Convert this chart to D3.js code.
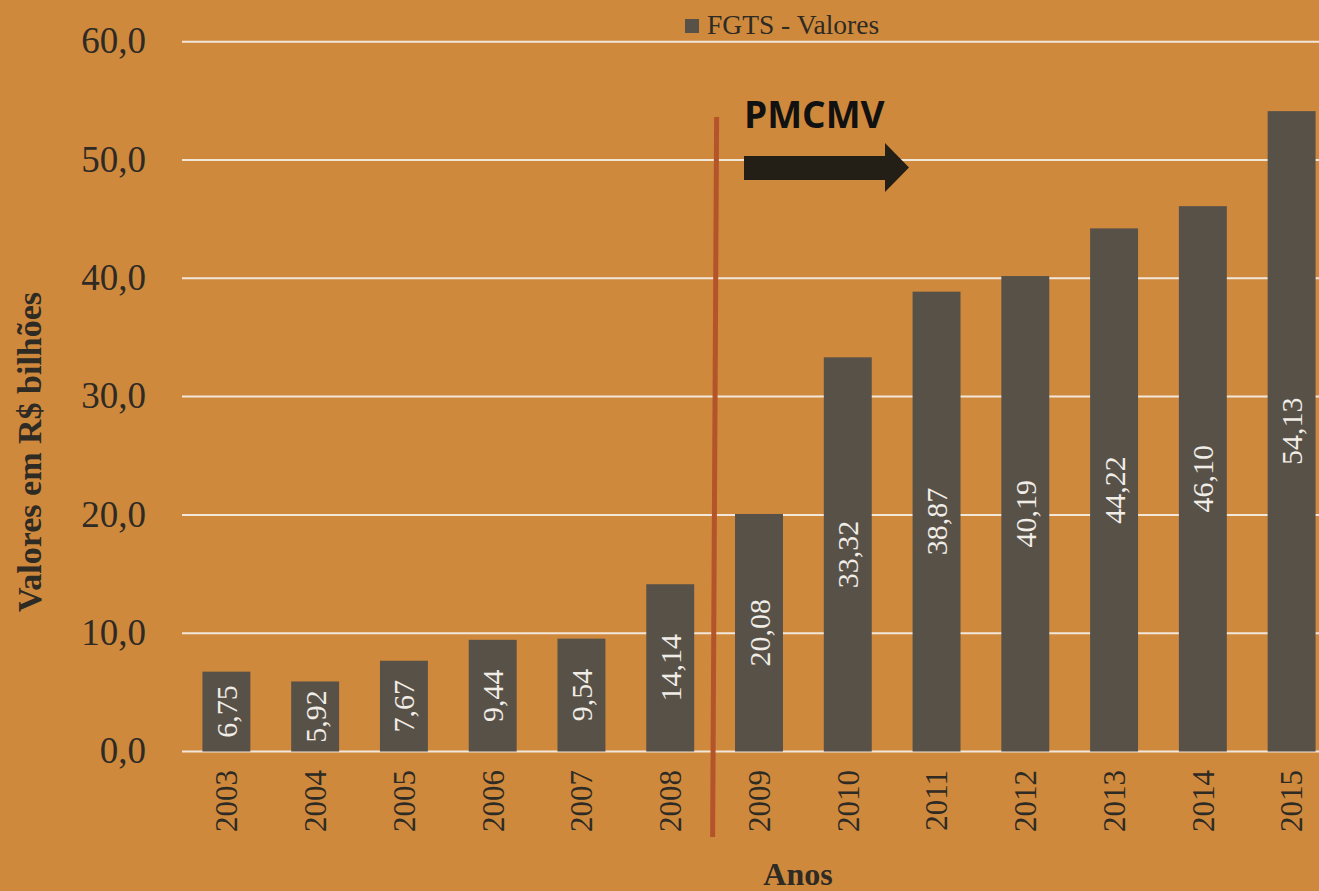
<!DOCTYPE html>
<meta charset="utf-8">
<script src="https://d3js.org/d3.v7.min.js"></script>
<style>
  body { margin: 0; background: #cf893c; }
  svg { display: block; }
</style>
<body>
<svg width="1319" height="891"></svg>
</body>
<script>

// data
var anos = ["2003","2004","2005","2006","2007","2008","2009","2010","2011","2012","2013","2014","2015"];
var valores = [6.75, 5.92, 7.67, 9.44, 9.54, 14.14, 20.08, 33.32, 38.87, 40.19, 44.22, 46.10, 54.13];
var yTicks = [0, 10, 20, 30, 40, 50, 60];

var data = anos.map(function(a, i) { return {ano: a, valor: valores[i]}; });

var svg = d3.select("svg");
var bg = "#cf893c", barColor = "#585148";
var serif = "'Liberation Serif', serif";

svg.append("rect").attr("width", 1319).attr("height", 891).attr("fill", bg);

var x = d3.scaleBand()
    .domain(anos)
    .range([182, 1336])
    .paddingInner(0.46)
    .paddingOuter(0.23);

var y = d3.scaleLinear()
    .domain([0, 60])
    .range([751.5, 41.7]);

var virg = function(f) { return function(d) { return d3.format(f)(d).replace(".", ","); }; };

// gridlines
svg.append("g")
  .selectAll("line")
  .data(yTicks)
  .enter().append("line")
    .attr("x1", 182).attr("x2", 1319)
    .attr("y1", function(d) { return y(d); })
    .attr("y2", function(d) { return y(d); })
    .attr("stroke", "#f3e7da")
    .attr("stroke-width", 2);

// y axis labels
var yAxis = svg.append("g")
    .attr("transform", "translate(146,0)")
    .call(d3.axisLeft(y).tickValues(yTicks).tickFormat(virg(".1f")).tickSize(0).tickPadding(0));
yAxis.select(".domain").remove();
yAxis.selectAll("text")
    .attr("font-family", serif)
    .attr("font-size", 37)
    .attr("fill", "#2e2a24")
    .attr("dy", "0.3em");

// bars
svg.append("g")
  .selectAll("rect")
  .data(data)
  .enter().append("rect")
    .attr("x", function(d) { return x(d.ano); })
    .attr("y", function(d) { return y(d.valor); })
    .attr("width", x.bandwidth())
    .attr("height", function(d) { return y(0) - y(d.valor); })
    .attr("fill", barColor);

// value labels
svg.append("g")
  .selectAll("text")
  .data(data)
  .enter().append("text")
    .attr("transform", function(d) {
      return "translate(" + (x(d.ano) + x.bandwidth() / 2) + "," + ((y(d.valor) + y(0)) / 2) + ") rotate(-90)";
    })
    .attr("text-anchor", "middle")
    .attr("dy", "0.35em")
    .attr("font-family", serif)
    .attr("font-size", 30)
    .attr("fill", "#f0ece6")
    .text(function(d) { return virg(".2f")(d.valor); });

// x axis labels
svg.append("g")
  .selectAll("text")
  .data(anos)
  .enter().append("text")
    .attr("transform", function(d) {
      return "translate(" + (x(d) + x.bandwidth() / 2) + ",770) rotate(-90)";
    })
    .attr("text-anchor", "end")
    .attr("dy", "0.35em")
    .attr("font-family", serif)
    .attr("font-size", 31)
    .attr("fill", "#2e2a24")
    .text(function(d) { return d; });

// axis titles
svg.append("text")
    .attr("transform", "translate(41,452) rotate(-90)")
    .attr("text-anchor", "middle")
    .attr("font-family", serif)
    .attr("font-weight", "bold")
    .attr("font-size", 34)
    .attr("fill", "#2e2a24")
    .text("Valores em R$ bilhões");

svg.append("text")
    .attr("x", 798)
    .attr("y", 885)
    .attr("text-anchor", "middle")
    .attr("font-family", serif)
    .attr("font-weight", "bold")
    .attr("font-size", 32)
    .attr("fill", "#2e2a24")
    .text("Anos");

// legend
svg.append("rect")
    .attr("x", 685).attr("y", 19)
    .attr("width", 14).attr("height", 14)
    .attr("fill", barColor);
svg.append("text")
    .attr("x", 707)
    .attr("y", 34)
    .attr("font-family", serif)
    .attr("font-size", 27.5)
    .attr("fill", "#2e2a24")
    .text("FGTS - Valores");

// PMCMV marker line between 2008 and 2009
var xm = (x("2008") + x.bandwidth() + x("2009")) / 2;
svg.append("line")
    .attr("x1", xm + 2).attr("y1", 117)
    .attr("x2", xm - 2).attr("y2", 837)
    .attr("stroke", "#b4542b")
    .attr("stroke-width", 5);

svg.append("text")
    .attr("x", 744)
    .attr("y", 128)
    .attr("font-family", "'Open Sans', sans-serif")
    .attr("font-weight", "bold")
    .attr("font-size", 37)
    .attr("fill", "#111")
    .text("PMCMV");

// arrow
svg.append("path")
    .attr("d", "M744,156 L885,156 L885,143 L909,167.5 L885,192 L885,180 L744,180 Z")
    .attr("fill", "#231e16");

</script>
